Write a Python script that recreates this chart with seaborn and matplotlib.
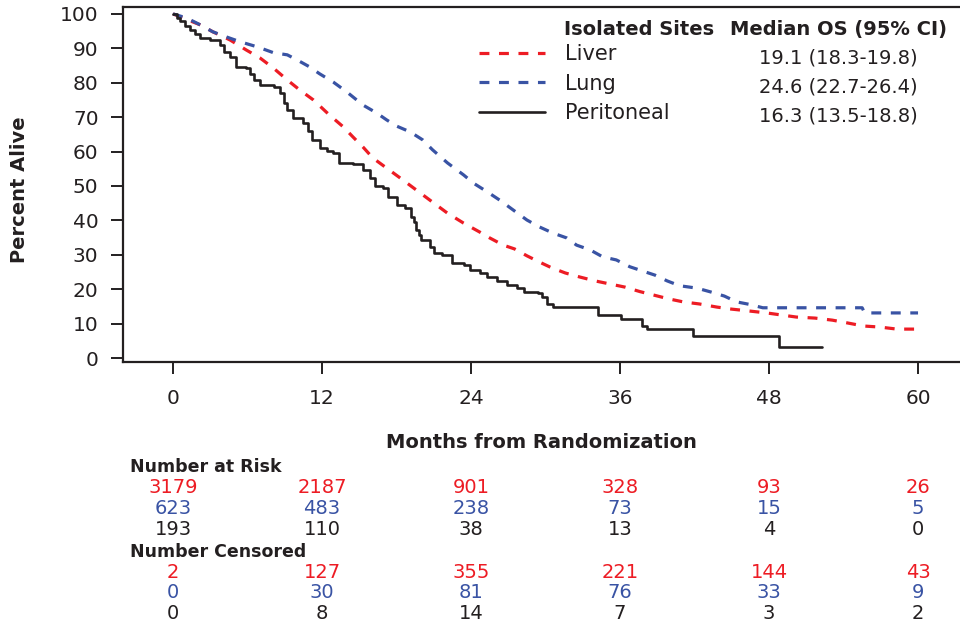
import numpy as np
import pandas as pd
import matplotlib
matplotlib.use("Agg")
import matplotlib.pyplot as plt
import seaborn as sns
from matplotlib.transforms import blended_transform_factory

# ---------------- data ----------------
liver_months = [0, 0.8, 2.2, 3.2, 4.6, 5.9, 7.0, 8.1, 9.2, 10.2, 11.3, 12.6, 13.7, 14.5,
                15.3, 16.1, 17.2, 18.3, 19.6, 20.9, 22.1, 23.4, 24.7, 25.5, 26.6, 27.5,
                28.5, 29.5, 30.5, 31.6, 32.8, 34.0, 35.2, 36.4, 37.6, 38.7, 39.9, 41.1,
                42.4, 43.8, 45.0, 46.3, 47.8, 49.0, 50.2, 51.7, 53.1, 54.3, 55.6, 56.9,
                58.3, 60.0]
liver_pct = [100, 98.8, 96.8, 94.8, 92.4, 89.5, 87.2, 84.2, 80.8, 77.9, 75.0, 70.6, 67.2,
             64.2, 61.3, 58.1, 55.2, 52.3, 48.8, 45.3, 42.1, 39.2, 36.6, 34.9, 32.8, 31.7,
             29.7, 27.9, 26.2, 24.7, 23.5, 22.4, 21.5, 20.6, 19.3, 18.3, 17.2, 16.3, 15.7,
             14.8, 14.2, 13.7, 13.1, 12.5, 11.9, 11.6, 11.0, 10.2, 9.3, 9.0, 8.4, 8.4]

lung_months = [0, 1.1, 2.2, 3.2, 4.3, 5.4, 6.8, 8.1, 9.2, 10.0, 11.0, 11.8, 12.9, 14.0,
               15.3, 16.4, 17.2, 18.0, 19.1, 20.1, 20.9, 22.1, 23.4, 24.2, 25.3, 26.3,
               27.4, 28.5, 29.5, 30.6, 31.7, 32.5, 33.6, 34.6, 35.7, 36.8, 37.8, 38.8,
               39.8, 40.8, 42.2, 43.3, 44.4, 45.4, 46.4, 47.5, 55.5, 55.7, 60.0]
lung_pct = [100, 98.8, 96.8, 94.8, 93.3, 91.9, 90.4, 88.7, 88.1, 86.6, 84.6, 82.6, 80.2,
            77.3, 73.5, 71.2, 69.2, 67.4, 65.7, 63.4, 60.5, 56.7, 53.2, 50.8, 48.3, 45.9,
            43.0, 40.1, 38.1, 36.3, 34.9, 32.8, 31.4, 29.4, 28.5, 26.5, 25.3, 24.1, 22.4,
            21.0, 20.3, 19.2, 18.0, 16.3, 15.6, 14.6, 14.6, 13.1, 13.1]

perit_months = [0, 0.3, 0.6, 1.0, 1.4, 1.8, 2.2, 3.0, 3.8, 4.1, 4.6, 5.1, 5.9, 6.2, 6.5,
                7.0, 8.1, 8.6, 8.9, 9.2, 9.7, 10.5, 10.9, 11.2, 11.8, 12.4, 12.9, 13.4,
                14.5, 15.3, 15.9, 16.3, 16.9, 17.3, 18.0, 18.7, 19.2, 19.4, 19.6, 19.8,
                20.0, 20.7, 21.0, 21.7, 22.5, 23.4, 23.9, 24.7, 25.3, 26.1, 26.9, 27.7,
                28.3, 29.4, 29.7, 30.1, 30.6, 34.2, 36.1, 37.8, 38.2, 41.9, 48.8, 52.3]
perit_pct = [100, 98.8, 97.8, 96.5, 95.3, 94.2, 93.1, 92.4, 91.0, 89.0, 87.6, 84.7, 84.2,
             82.5, 80.8, 79.4, 78.8, 77.0, 74.0, 72.0, 69.7, 68.3, 66.0, 63.4, 61.0, 60.2,
             59.6, 56.7, 56.4, 54.7, 52.3, 50.0, 49.4, 46.8, 44.5, 43.6, 41.0, 39.5, 37.2,
             35.8, 34.3, 32.3, 30.5, 29.9, 27.6, 27.0, 25.6, 24.7, 23.5, 22.4, 21.2, 20.3,
             19.2, 18.9, 17.7, 15.7, 14.8, 12.5, 11.3, 9.3, 8.4, 6.4, 3.2, 3.2]

sites = ["Liver", "Lung", "Peritoneal"]
median_os = ["19.1 (18.3-19.8)", "24.6 (22.7-26.4)", "16.3 (13.5-18.8)"]
x_ticks = [0, 12, 24, 36, 48, 60]
y_ticks = [0, 10, 20, 30, 40, 50, 60, 70, 80, 90, 100]
at_risk = {"Liver": [3179, 2187, 901, 328, 93, 26],
           "Lung": [623, 483, 238, 73, 15, 5],
           "Peritoneal": [193, 110, 38, 13, 4, 0]}
censored = {"Liver": [2, 127, 355, 221, 144, 43],
            "Lung": [0, 30, 81, 76, 33, 9],
            "Peritoneal": [0, 8, 14, 7, 3, 2]}

RED = "#ed1c24"
BLUE = "#3953a4"
BLACK = "#231f20"
colors = {"Liver": RED, "Lung": BLUE, "Peritoneal": BLACK}

# ---------------- figure ----------------
sns.set_theme(style="ticks")
plt.rcParams["font.family"] = ["DejaVu Sans"]

W, H = 960, 626
fig = plt.figure(figsize=(W / 100, H / 100), dpi=100)
ax = fig.add_axes([123 / W, 1 - 362 / H, 837 / W, 355 / H])


def fx(px):
    return px / W


def fy(px):
    return 1 - px / H


df_liver = pd.DataFrame({"month": liver_months, "pct": liver_pct})
df_lung = pd.DataFrame({"month": lung_months, "pct": lung_pct})
df_perit = pd.DataFrame({"month": perit_months, "pct": perit_pct})

sns.lineplot(data=df_liver, x="month", y="pct", ax=ax, color=RED, linewidth=2.3,
             estimator=None, sort=False, label="Liver")
sns.lineplot(data=df_lung, x="month", y="pct", ax=ax, color=BLUE, linewidth=2.3,
             estimator=None, sort=False, label="Lung")
sns.lineplot(data=df_perit, x="month", y="pct", ax=ax, color=BLACK, linewidth=1.9,
             drawstyle="steps-post", estimator=None, sort=False, label="Peritoneal")

lines = ax.get_lines()[:3]
for ln in lines[:2]:
    ln.set_linestyle((0, (3.1, 3.0)))
    ln.set_dash_capstyle("butt")
lines[2].set_linestyle("-")

ax.set_xlim(-4.03, 63.38)
ax.set_ylim(-1.16, 102.0)
ax.set_xticks(x_ticks)
ax.set_yticks(y_ticks)
ax.set_xlabel("")
ax.set_ylabel("")

for s in ["left", "top", "bottom"]:
    ax.spines[s].set_linewidth(1.6)
    ax.spines[s].set_color(BLACK)
ax.spines["right"].set_visible(False)
ax.tick_params(axis="both", direction="out", length=8.6, width=1.4, color=BLACK,
               labelcolor=BLACK, labelsize=14.5, pad=9)
ax.tick_params(axis="x", pad=11)

# legend
leg = ax.legend(lines, sites, loc="center left", bbox_to_anchor=(fx(479), fy(83.5)),
                bbox_transform=fig.transFigure, frameon=False, fontsize=15,
                handlelength=3.17, handletextpad=0.96, labelspacing=0.45,
                borderpad=0, borderaxespad=0)
for t in leg.get_texts():
    t.set_color(BLACK)

fig.text(fx(564), fy(35), "Isolated Sites", fontsize=14, fontweight="bold",
         color=BLACK, ha="left", va="baseline")
fig.text(fx(730), fy(35), "Median OS (95% CI)", fontsize=14, fontweight="bold",
         color=BLACK, ha="left", va="baseline")
for i, v in enumerate(median_os):
    fig.text(fx(838.5), fy(64 + 28.5 * i), v, fontsize=14, color=BLACK,
             ha="center", va="baseline")

# axis labels
fig.text(fx(20), fy(190), "Percent Alive", fontsize=14, fontweight="bold",
         color=BLACK, rotation=90, ha="center", va="center")
fig.text(fx(541), fy(448), "Months from Randomization", fontsize=14,
         fontweight="bold", color=BLACK, ha="center", va="baseline")

# number at risk / censored table
trans = blended_transform_factory(ax.transData, fig.transFigure)
fig.text(fx(130), fy(472), "Number at Risk", fontsize=12.5, fontweight="bold",
         color=BLACK, ha="left", va="baseline")
fig.text(fx(130), fy(557), "Number Censored", fontsize=12.5, fontweight="bold",
         color=BLACK, ha="left", va="baseline")
risk_base = [493, 514, 535]
cens_base = [578, 598.5, 619]
for j, site in enumerate(sites):
    for k, xt in enumerate(x_ticks):
        ax.text(xt, fy(risk_base[j]), str(at_risk[site][k]), transform=trans,
                fontsize=14, color=colors[site], ha="center", va="baseline")
        ax.text(xt, fy(cens_base[j]), str(censored[site][k]), transform=trans,
                fontsize=14, color=colors[site], ha="center", va="baseline")

fig.savefig("out.png", dpi=100)
